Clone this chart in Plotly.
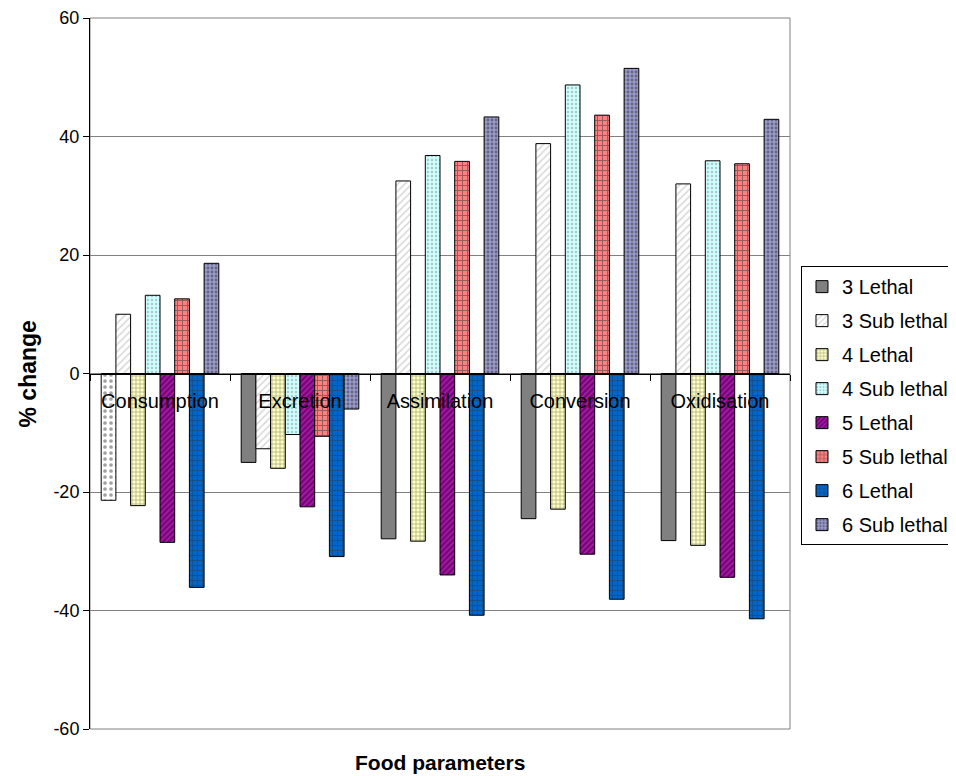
import plotly.graph_objects as go

categories = ["Consumption", "Excretion", "Assimilation", "Conversion", "Oxidisation"]

lethal_3 = [-21.4, -15.0, -27.9, -24.5, -28.2]
sub_lethal_3 = [10.0, -12.7, 32.5, 38.8, 32.0]
lethal_4 = [-22.3, -16.0, -28.3, -22.9, -29.0]
sub_lethal_4 = [13.2, -10.3, 36.8, 48.7, 35.9]
lethal_5 = [-28.5, -22.5, -34.0, -30.5, -34.4]
sub_lethal_5 = [12.6, -10.6, 35.8, 43.6, 35.4]
lethal_6 = [-36.1, -30.9, -40.8, -38.1, -41.4]
sub_lethal_6 = [18.6, -6.0, 43.3, 51.5, 42.9]

series_names = ["3 Lethal", "3 Sub lethal", "4 Lethal", "4 Sub lethal",
                "5 Lethal", "5 Sub lethal", "6 Lethal", "6 Sub lethal"]
series_values = [lethal_3, sub_lethal_3, lethal_4, sub_lethal_4,
                 lethal_5, sub_lethal_5, lethal_6, sub_lethal_6]

y_tick_values = [-60, -40, -20, 0, 20, 40, 60]
y_tick_labels = ["-60", "-40", "-20", "0", "20", "40", "60"]

# styles: (bg colour, pattern shape, pattern colour, pattern size, solidity)
styles = [
    ("#808080", "", "#808080", 6, 0.3),
    ("#ffffff", "/", "#b0b0b0", 5, 0.3),
    ("#ffffc0", "+", "#404040", 4, 0.3),
    ("#ccffff", ".", "#909090", 4, 0.3),
    ("#800080", "/", "#c060c0", 4, 0.3),
    ("#ff8080", "+", "#333333", 5, 0.35),
    ("#0066cc", "+", "#333333", 5, 0.3),
    ("#9999cc", ".", "#333333", 4, 0.4),
]

FONT = "Liberation Sans, Arial, sans-serif"

fig = go.Figure()
for i, (name, vals) in enumerate(zip(series_names, series_values)):
    bg, shape, fg, size, sol = styles[i]
    if i == 0:
        # Consumption bar of this series is drawn with a light dotted fill
        colors = ["#ffffff"] + [bg] * (len(vals) - 1)
        shapes = ["."] + [""] * (len(vals) - 1)
        fgs = ["#a0a0a0"] + [fg] * (len(vals) - 1)
        show = False
    else:
        colors = bg
        shapes = shape
        fgs = fg
        show = True
    fig.add_trace(go.Bar(
        name=name,
        x=categories,
        y=vals,
        offsetgroup=str(i),
        legendgroup=name,
        showlegend=show,
        marker=dict(
            color=colors,
            line=dict(color="#000000", width=1),
            pattern=dict(shape=shapes, fgcolor=fgs, size=size,
                         solidity=sol, fillmode="overlay"),
        ),
    ))
    if i == 0:
        # legend entry with the series' regular grey fill
        fig.add_trace(go.Bar(
            name=name,
            x=[None],
            y=[None],
            offsetgroup=str(i),
            legendgroup=name,
            showlegend=True,
            hoverinfo="skip",
            marker=dict(color=bg, line=dict(color="#000000", width=1)),
        ))

# figure is placed 8px from the page's top-left corner (page margin)
fig.update_layout(
    width=948,
    height=768,
    margin=dict(l=82, r=166, t=10, b=47, pad=0, autoexpand=False),
    paper_bgcolor="white",
    plot_bgcolor="white",
    barmode="group",
    bargap=0.16,
    bargroupgap=0,
    font=dict(family=FONT, size=18, color="#000000"),
    showlegend=True,
    legend=dict(
        x=1.0157, xanchor="left",
        y=0.651, yanchor="top",
        bgcolor="white",
        bordercolor="#000000",
        borderwidth=1,
        font=dict(family=FONT, size=20, color="#000000"),
        tracegroupgap=5,
        itemwidth=30,
        traceorder="grouped",
    ),
    xaxis=dict(
        type="category",
        anchor="free",
        position=0.5,
        automargin=False,
        showline=True,
        linecolor="#000000",
        linewidth=1,
        ticks="outside",
        tickson="boundaries",
        ticklen=6,
        tickcolor="#000000",
        showgrid=False,
        zeroline=False,
        tickfont=dict(family=FONT, size=20, color="#000000"),
        ticklabelstandoff=9,
    ),
    yaxis=dict(
        range=[-60, 60],
        tickmode="array",
        tickvals=y_tick_values,
        ticktext=y_tick_labels,
        automargin=False,
        showline=True,
        linecolor="#000000",
        linewidth=1,
        ticks="outside",
        ticklen=6,
        tickcolor="#000000",
        showgrid=True,
        gridcolor="#808080",
        gridwidth=1,
        zeroline=False,
        tickfont=dict(family=FONT, size=18, color="#000000"),
    ),
    shapes=[dict(type="rect", xref="paper", yref="paper", x0=0, x1=1, y0=0, y1=1,
                 line=dict(color="#808080", width=1), layer="below")],
    annotations=[
        dict(text="<b>Food parameters</b>", xref="paper", yref="paper",
             x=0.5, y=-0.0478, xanchor="center", yanchor="middle", showarrow=False,
             font=dict(family=FONT, size=21, color="#000000")),
        dict(text="<b>% change</b>", xref="paper", yref="paper",
             x=-0.0886, y=0.5, xanchor="center", yanchor="middle", showarrow=False,
             textangle=-90, font=dict(family=FONT, size=23, color="#000000")),
    ],
)

fig.write_html("out.html")
